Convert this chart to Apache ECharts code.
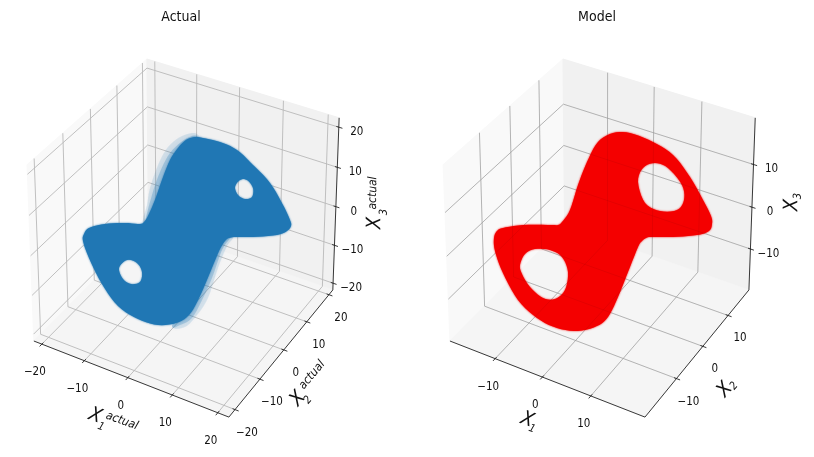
<!DOCTYPE html>
<html>
<head>
<meta charset="utf-8">
<style>
html,body{margin:0;padding:0;background:#fff}
#c{width:814px;height:457px;filter:blur(0.45px)}
</style>
<script src="https://cdn.jsdelivr.net/npm/echarts@6/dist/echarts.min.js"></script>
</head>
<body>
<div id="c"></div>
<script>
// ---------- values ----------
const titles = ['Actual', 'Model'];
const leftTicks = [-20, -10, 0, 10, 20];
const rightTicks = [-10, 0, 10];
const leftLimits = { x: [-21.9, 22.4], y: [-22.4, 21.8], z: [-21.8, 22.3] };
const rightLimits = { x: [-19.8, 20.9], y: [-21.4, 18.6], z: [-20, 20.7] };

// outlines of the attractor on the image plane
const actualOutline = [[195,137],[203,138],[220,142],[237,150],[253,165],[270,183],[283,205],[290,220],[291,226],[287,231],[277,235],[253,237],[236,237],[229,238],[225,241],[219,251],[209,275],[199,298],[189,315],[176,323],[158,325],[138,319],[118,306],[102,284],[89,258],[83,241],[84,234],[89,228],[105,224],[125,223],[140,224],[144,222],[148,216],[155,200],[162,180],[170,160],[178,148],[186,140]];
const actualHoles = [
  [[235,187],[240,180],[247,180],[253,188],[252,197],[245,199],[238,195]],
  [[119,268],[127,260],[137,263],[142,272],[140,282],[131,284],[123,279]]
];
const actualHalos = [
  { alpha: 0.14, pts: [[143,224],[147,205],[150,188],[158,165],[168,147],[182,136],[197,134],[200,150],[175,180],[160,215]] },
  { alpha: 0.26, pts: [[146,222],[152,195],[160,172],[170,153],[184,140],[197,136],[200,150],[175,180],[160,215]] },
  { alpha: 0.14, pts: [[233,238],[227,246],[218,268],[208,298],[197,315],[185,327],[172,326],[185,300],[205,260],[225,238]] },
  { alpha: 0.26, pts: [[230,238],[222,250],[212,278],[203,298],[192,318],[180,325],[172,326],[185,300],[205,260],[225,238]] }
];
const modelOutline = [[613,133],[630,133],[653,142],[673,155],[690,177],[703,200],[711,216],[712,224],[709,231],[697,235],[673,237],[651,237],[646,238],[642,241],[638,247],[628,272],[618,297],[608,317],[597,326],[578,331],[557,328],[537,318],[518,300],[503,273],[495,251],[494,238],[497,231],[503,228],[523,225],[552,225],[558,225],[562,222],[570,210],[578,185],[587,162],[598,142]];
const modelHoles = [
  [[638,182],[643,168],[655,163],[668,168],[682,185],[684,200],[677,210],[660,211],[645,203]],
  [[520,265],[525,254],[535,249],[550,250],[562,257],[568,272],[565,290],[555,299],[543,298],[530,287],[522,274]]
];
const axisTexts = [
  // text, x, y, rotation, size
  ['X', 95, 416, -0.35, 20], ['1', 101, 427, -0.35, 11], ['actual', 122, 421, -0.35, 12],
  ['X', 298, 399, 0.87, 20], ['2', 308, 400, 0.87, 11], ['actual', 312, 375, 0.87, 12],
  ['X', 375, 223, 1.57, 20], ['actual', 373, 193, 1.57, 12], ['3', 384, 212, 1.57, 11],
  ['X', 527, 420, -0.35, 20], ['1', 532, 429, -0.35, 11],
  ['X', 725, 390, 0.87, 20], ['2', 734, 386, 0.87, 11],
  ['X', 792, 205, 1.57, 20], ['3', 798, 196, 1.57, 11]
];

// ---------- projection of the 3D box onto the image plane ----------
const EL = 30 * Math.PI / 180, AZ = -60 * Math.PI / 180, DIST = 10;
const BOX = [1.143, 1.143, 0.857];
const SCALE = [1955, 2346];
const panels = [
  { origin: [186, 229.8], lim: leftLimits, ticks: leftTicks, range: [0, 407], blue: true },
  { origin: [602.1, 229.8], lim: rightLimits, ticks: rightTicks, range: [407, 814], blue: false }
];
function projector(p) {
  const n = [Math.cos(EL) * Math.cos(AZ), Math.cos(EL) * Math.sin(AZ), Math.sin(EL)];
  const u = [-n[1], n[0], 0].map(v => v / Math.hypot(n[0], n[1]));
  const w = [n[1] * u[2] - n[2] * u[1], n[2] * u[0] - n[0] * u[2], n[0] * u[1] - n[1] * u[0]];
  const dot = (a, b) => a[0] * b[0] + a[1] * b[1] + a[2] * b[2];
  return (x, y, z) => {
    const c = [
      ((x - p.lim.x[0]) / (p.lim.x[1] - p.lim.x[0]) - 0.5) * BOX[0],
      ((y - p.lim.y[0]) / (p.lim.y[1] - p.lim.y[0]) - 0.5) * BOX[1],
      ((z - p.lim.z[0]) / (p.lim.z[1] - p.lim.z[0]) - 0.5) * BOX[2]
    ];
    const d = DIST - dot(n, c);
    return [p.origin[0] + SCALE[0] * dot(u, c) / d, p.origin[1] - SCALE[1] * dot(w, c) / d];
  };
}

// ---------- helpers ----------
const BREAK = ['-', '-'];
function segments(list) {
  const out = [];
  list.forEach(s => { out.push(s[0], s[1], BREAK); });
  return out;
}
function smoothClosed(pts) {
  const out = [], n = pts.length;
  for (let i = 0; i < n; i++) {
    const a = pts[(i + n - 1) % n], b = pts[i], c = pts[(i + 1) % n], d = pts[(i + 2) % n];
    for (let k = 0; k < 5; k++) {
      const t = k / 5, t2 = t * t, t3 = t2 * t;
      out.push([0, 1].map(j => 0.5 * (2 * b[j] + (c[j] - a[j]) * t + (2 * a[j] - 5 * b[j] + 4 * c[j] - d[j]) * t2 + (3 * b[j] - a[j] - 3 * c[j] + d[j]) * t3)));
    }
  }
  return out;
}
function area(pts) {
  let s = 0;
  pts.forEach((p, i) => { const q = pts[(i + 1) % pts.length]; s += p[0] * q[1] - q[0] * p[1]; });
  return s;
}
function blobPath(api, outline, holes, style) {
  const rings = [outline].concat(holes).map(r => smoothClosed(r).map(p => api.coord(p)));
  const sign = area(rings[0]);
  let d = '', xs = [], ys = [];
  rings.forEach((r, i) => {
    let ring = r;
    if ((i === 0) !== (area(r) * sign > 0)) ring = r.slice().reverse();
    ring.forEach((p, j) => { d += (j ? 'L' : 'M') + p[0].toFixed(2) + ' ' + p[1].toFixed(2); xs.push(p[0]); ys.push(p[1]); });
    d += 'Z';
  });
  const x = Math.min(...xs), y = Math.min(...ys);
  return {
    type: 'path',
    shape: { pathData: d, layout: 'cover', x, y, width: Math.max(...xs) - x, height: Math.max(...ys) - y },
    style
  };
}
function customSeries(i, z, count, render) {
  return {
    type: 'custom', xAxisIndex: i, yAxisIndex: i, z, silent: true, clip: false,
    data: Array.from({ length: count }, (_, k) => [k, k]),
    renderItem: render
  };
}
function lineSeries(i, z, data, color, width) {
  return {
    type: 'line', xAxisIndex: i, yAxisIndex: i, z, silent: true, showSymbol: false, symbol: 'none',
    connectNulls: false, clip: false, data,
    lineStyle: { color, width }, animation: false
  };
}

// ---------- build ----------
const FONT = '"DejaVu Sans Condensed","DejaVu Sans",sans-serif';
const series = [];
panels.forEach((p, i) => {
  const P = projector(p);
  const [xl, xh] = p.lim.x, [yl, yh] = p.lim.y, [zl, zh] = p.lim.z;
  const panes = [
    { pts: [P(xl, yl, zl), P(xl, yh, zl), P(xl, yh, zh), P(xl, yl, zh)], fill: '#f9f9f9' },
    { pts: [P(xl, yh, zl), P(xh, yh, zl), P(xh, yh, zh), P(xl, yh, zh)], fill: '#f1f1f1' },
    { pts: [P(xl, yl, zl), P(xh, yl, zl), P(xh, yh, zl), P(xl, yh, zl)], fill: '#f5f5f5' }
  ];
  series.push(customSeries(i, 1, panes.length, (params, api) => ({
    type: 'polygon',
    shape: { points: panes[params.dataIndex].pts.map(q => api.coord(q)) },
    style: { fill: panes[params.dataIndex].fill, stroke: panes[params.dataIndex].fill, lineWidth: 1 }
  })));

  const grid = [], axes = [], ticks = [];
  p.ticks.forEach(t => {
    grid.push([P(t, yl, zl), P(t, yh, zl)], [P(t, yh, zl), P(t, yh, zh)]);
    grid.push([P(xl, t, zl), P(xh, t, zl)], [P(xl, t, zl), P(xl, t, zh)]);
    grid.push([P(xl, yl, t), P(xl, yh, t)], [P(xl, yh, t), P(xh, yh, t)]);
    const dy = (yh - yl), dx = (xh - xl);
    ticks.push([P(t, yl + 0.012 * dy, zl), P(t, yl - 0.018 * dy, zl)]);
    ticks.push([P(xh + 0.018 * dx, t, zl), P(xh - 0.012 * dx, t, zl)]);
    ticks.push([P(xh - 0.012 * dx, yh, t), P(xh + 0.018 * dx, yh, t)]);
  });
  axes.push([P(xl, yl, zl), P(xh, yl, zl)], [P(xh, yl, zl), P(xh, yh, zl)], [P(xh, yh, zl), P(xh, yh, zh)]);
  series.push(lineSeries(i, 2, segments(grid), '#b9b9b9', 0.9));
  series.push(lineSeries(i, 3, segments(axes.concat(ticks)), '#222', 0.9));

  const color = p.blue ? '#2077b4' : '#f40000';
  if (p.blue) {
    series.push(customSeries(i, 4, actualHalos.length, (params, api) => {
      const h = actualHalos[params.dataIndex];
      const c = 'rgba(32,119,180,' + h.alpha + ')';
      return blobPath(api, h.pts, [], { fill: c, shadowBlur: 5, shadowColor: c });
    }));
  }
  series.push(customSeries(i, 5, 1, (params, api) => blobPath(api,
    p.blue ? actualOutline : modelOutline, p.blue ? actualHoles : modelHoles,
    { fill: color, shadowBlur: 2, shadowColor: color })));
  if (!p.blue) {
    // the grid shows faintly through the red cloud
    series.push(lineSeries(i, 5, segments(grid), 'rgba(0,0,0,0.07)', 0.9));
  }

  // tick labels
  const labels = [];
  const fmt = t => String(t).replace('-', '\u2212');
  p.ticks.forEach(t => {
    const a = P(t, yl, zl), b = P(xh, t, zl), c = P(xh, yh, t);
    labels.push({ t: fmt(t), q: [a[0] - 7, a[1] + 28] });
    labels.push({ t: fmt(t), q: [b[0] + 12, b[1] + 23] });
    labels.push({ t: fmt(t), q: [c[0] + 18, c[1] + 5] });
  });
  series.push(customSeries(i, 6, labels.length, (params, api) => {
    const l = labels[params.dataIndex], q = api.coord(l.q);
    return { type: 'text', x: q[0], y: q[1], style: { text: l.t, fill: '#111', font: '11.5px ' + FONT, align: 'center', verticalAlign: 'middle' } };
  }));
});
// axis names
series.push(customSeries(0, 7, axisTexts.length, (params, api) => {
  const t = axisTexts[params.dataIndex];
  const q = api.coord([t[1], t[2]]);
  return { type: 'text', x: q[0], y: q[1], rotation: t[3], style: { text: t[0], fill: '#111', font: 'italic ' + t[4] + 'px ' + FONT, align: 'center', verticalAlign: 'middle' } };
}));

const chart = echarts.init(document.getElementById('c'), null, { renderer: 'canvas', width: 814, height: 457 });
chart.setOption({
  animation: false,
  backgroundColor: '#fff',
  title: [
    { text: titles[0], left: 176, top: 5, textAlign: 'center', textStyle: { fontSize: 14, fontWeight: 'normal', color: '#111', fontFamily: FONT } },
    { text: titles[1], left: 592, top: 5, textAlign: 'center', textStyle: { fontSize: 14, fontWeight: 'normal', color: '#111', fontFamily: FONT } }
  ],
  grid: [
    { left: 0, top: 0, width: 407, height: 457 },
    { left: 407, top: 0, width: 407, height: 457 }
  ],
  xAxis: panels.map((p, i) => ({ type: 'value', gridIndex: i, min: p.range[0], max: p.range[1], show: false })),
  yAxis: panels.map((p, i) => ({ type: 'value', gridIndex: i, min: 0, max: 457, inverse: true, show: false })),
  series
});
</script>
</body>
</html>
